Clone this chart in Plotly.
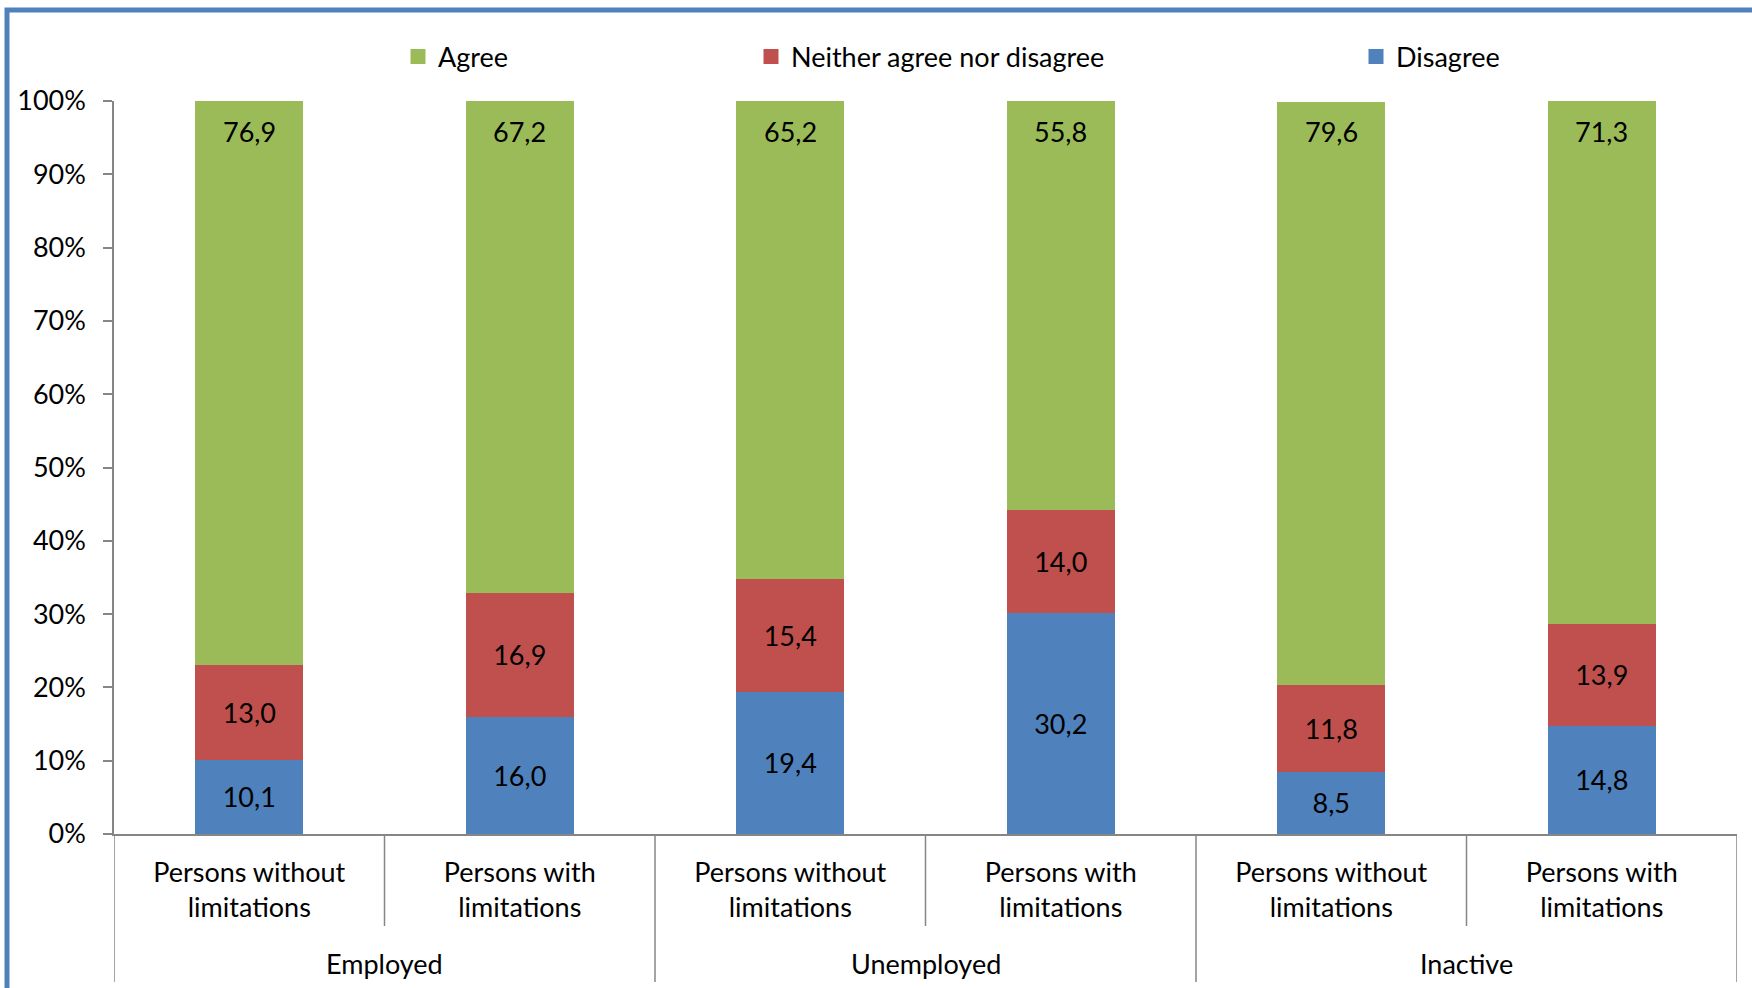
import plotly.graph_objects as go

groups = ["Employed", "Unemployed", "Inactive"]
subcats = ["Persons without<br>limitations", "Persons with<br>limitations"] * 3
agree = [76.9, 67.2, 65.2, 55.8, 79.6, 71.3]
neither = [13.0, 16.9, 15.4, 14.0, 11.8, 13.9]
disagree = [10.1, 16.0, 19.4, 30.2, 8.5, 14.8]
y_ticks = [0, 10, 20, 30, 40, 50, 60, 70, 80, 90, 100]
y_tick_labels = [f"{v}%" for v in y_ticks]

C_GREEN, C_RED, C_BLUE = "#9BBB59", "#C0504D", "#4F81BD"
AXC = "#868686"
FONT = "Lato"
FS = 27

W, H = 1752, 988
PL, PR, PT, PB = 114, 1737, 101, 834


def px_x(p):
    return (p - PL) / (PR - PL)


def px_y(p):
    return (PB - p) / (PB - PT)


xs = list(range(len(agree)))

fig = go.Figure()
fig.add_bar(x=xs, y=disagree, name="Disagree", marker=dict(color=C_BLUE, line=dict(width=0)),
            width=0.4, texttemplate="%{y:.1f}", textposition="inside", insidetextanchor="middle",
            textangle=0, constraintext="none", textfont=dict(color="black", size=FS, family=FONT),
            showlegend=False, hoverinfo="skip")
fig.add_bar(x=xs, y=neither, name="Neither agree nor disagree", marker=dict(color=C_RED, line=dict(width=0)),
            width=0.4, texttemplate="%{y:.1f}", textposition="inside", insidetextanchor="middle",
            textangle=0, constraintext="none", textfont=dict(color="black", size=FS, family=FONT),
            showlegend=False, hoverinfo="skip")
fig.add_bar(x=xs, y=agree, name="Agree", marker=dict(color=C_GREEN, line=dict(width=0)),
            width=0.4, showlegend=False, hoverinfo="skip")

# legend entries (square swatches)
for name, col, leg in [("Agree", C_GREEN, "legend"),
                       ("Neither agree nor disagree", C_RED, "legend2"),
                       ("Disagree", C_BLUE, "legend3")]:
    fig.add_scatter(x=[None], y=[None], mode="markers", name=name, legend=leg, showlegend=True,
                    marker=dict(symbol="square", size=15, color=col, line=dict(width=0)))

# green labels near the top of each bar (inside end)
for i in xs:
    top = disagree[i] + neither[i] + agree[i]
    fig.add_annotation(x=i, y=min(top, 100), xref="x", yref="y", text=f"{agree[i]:.1f}".replace(".", ","),
                       showarrow=False, yanchor="middle", yshift=-30,
                       font=dict(size=FS, family=FONT, color="black"))

# group labels
for g, name in enumerate(groups):
    fig.add_annotation(x=2 * g + 0.5, y=px_y(964), xref="x", yref="paper", text=name, showarrow=False,
                       yanchor="middle", font=dict(size=FS, family=FONT, color="black"))

# dividers
n = len(xs)
for b in range(n + 1):
    xb = b - 0.5
    long = (b % 2 == 0)
    fig.add_shape(type="line", xref="x", yref="paper", x0=xb, x1=xb, y0=0,
                  y1=px_y(982 if long else 926), line=dict(color=AXC, width=1.5))

# outer frame border
fig.add_shape(type="rect", xref="paper", yref="paper", x0=px_x(7), x1=px_x(1800), y0=px_y(1040), y1=px_y(10),
              line=dict(color="#4F81BD", width=5), fillcolor="rgba(0,0,0,0)")

leg_common = dict(orientation="h", yanchor="middle", y=px_y(57), xanchor="left",
                  font=dict(size=FS, family=FONT, color="black"), bgcolor="rgba(0,0,0,0)",
                  borderwidth=0, itemclick=False, itemdoubleclick=False)

fig.update_layout(
    width=W, height=H,
    margin=dict(l=PL, r=W - PR, t=PT, b=H - PB, autoexpand=False),
    barmode="stack", bargap=0.6,
    separators=", ",
    plot_bgcolor="white", paper_bgcolor="white",
    font=dict(family=FONT, size=FS, color="black"),
    showlegend=True,
    legend=dict(x=px_x(398), **leg_common),
    legend2=dict(x=px_x(751), **leg_common),
    legend3=dict(x=px_x(1356), **leg_common),
    xaxis=dict(range=[-0.5, n - 0.5], tickmode="array", tickvals=xs, ticktext=subcats,
               showline=True, linecolor=AXC, linewidth=1.5, ticks="", showgrid=False, zeroline=False,
               tickfont=dict(size=FS, family=FONT, color="black"), ticklabelstandoff=14, fixedrange=True),
    yaxis=dict(range=[0, 100], tickmode="array", tickvals=y_ticks, ticktext=y_tick_labels,
               showline=True, linecolor=AXC, linewidth=1.5, ticks="outside", ticklen=9, tickcolor=AXC,
               tickwidth=1.5, showgrid=False, zeroline=False,
               tickfont=dict(size=FS, family=FONT, color="black"), ticklabelstandoff=12, fixedrange=True),
)

fig.write_html("out.html", config={"displayModeBar": False})
